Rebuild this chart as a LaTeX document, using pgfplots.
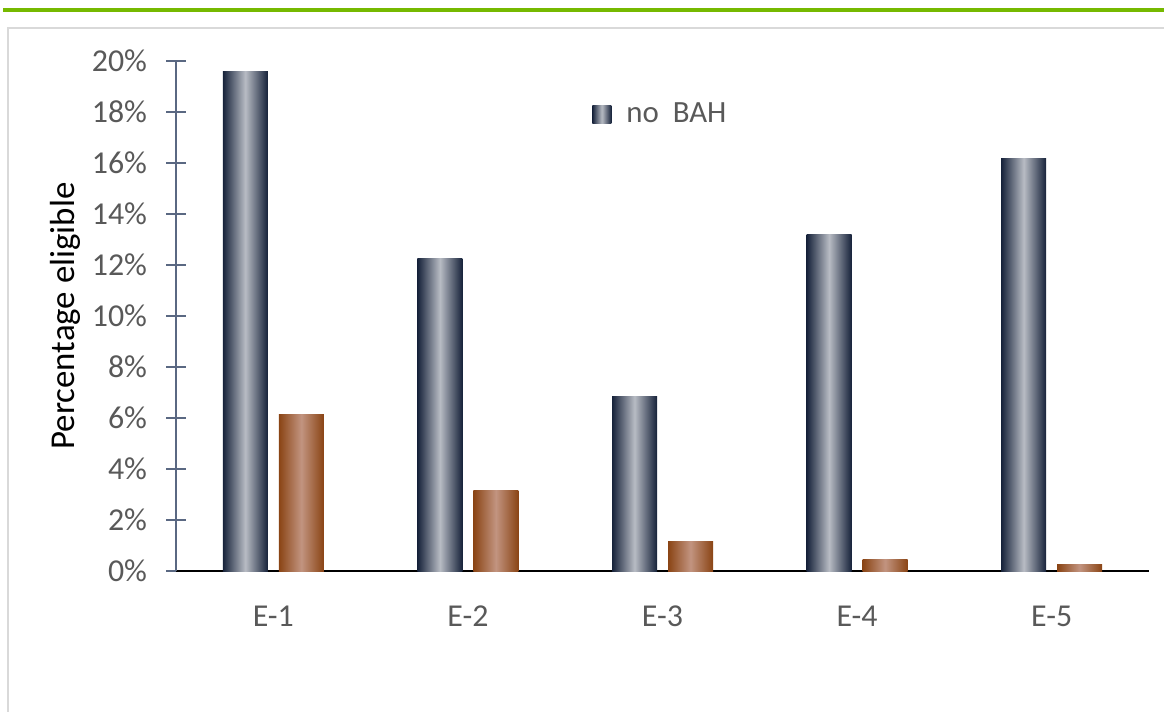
\documentclass[border=0pt]{standalone}
\usepackage{fontspec}
\setmainfont{Carlito}
\usepackage{pgfplots}
\pgfplotsset{compat=1.18}
\definecolor{navy}{HTML}{16223A}
\definecolor{navylight}{HTML}{B8BCC4}
\definecolor{brn}{HTML}{8A4414}
\definecolor{brnlight}{HTML}{C29480}
\definecolor{tickgray}{HTML}{595959}
\definecolor{axblue}{HTML}{5A6882}
\definecolor{framegray}{HTML}{D9D9D9}
\definecolor{grn}{HTML}{76B900}
\pgfplotsset{
  darkbar/.style={draw=none, bar shift=-14bp, left color=navy, right color=navy, middle color=navylight},
  brownbar/.style={draw=none, bar shift=14bp, left color=brn, right color=brn, middle color=brnlight, forget plot},
}
\begin{document}
\begin{tikzpicture}[x=1bp,y=1bp]
\path[use as bounding box] (0,0) rectangle (582,355.5);
\fill[grn] (1.5,349.5) rectangle (582,351.5);
\draw[framegray, line width=0.6bp] (4,-5) -- (4,341.5) -- (590,341.5);
\begin{axis}[
  at={(88bp,70bp)}, anchor=south west,
  scale only axis, width=486.5bp, height=255bp,
  xmin=-0.5, xmax=4.5, ymin=0, ymax=20,
  ybar, bar width=22.5bp,
  axis x line*=bottom, axis y line*=left,
  x axis line style={black, line width=1bp},
  y axis line style={axblue, line width=0.75bp},
  xtick={0,1,2,3,4}, xticklabels={E-1,E-2,E-3,E-4,E-5},
  major x tick style={draw=none},
  ytick={0,2,...,20},
  yticklabels={0\%,2\%,4\%,6\%,8\%,10\%,12\%,14\%,16\%,18\%,20\%},
  tick align=center, major tick length=10bp,
  y tick style={axblue, line width=0.75bp},
  tick label style={font=\fontsize{16}{19}\selectfont, text=tickgray},
  yticklabel style={xshift=-6bp},
  xticklabel style={yshift=-9bp},
  ylabel={Percentage eligible},
  ylabel style={font=\fontsize{17.5}{21}\selectfont, black, at={(axis description cs:-0.1141,0.5)}, anchor=center},
  legend style={at={(axis description cs:0.4275,0.896)}, anchor=west, draw=none, fill=none, inner sep=0pt,
    font=\fontsize{15.5}{18}\selectfont, text=tickgray},
  legend image code/.code={\shade[left color=navy, right color=navy, middle color=navylight] (0bp,-4.5bp) rectangle (9.5bp,4.5bp); \path (15bp,0bp);},
  clip=false,
]
% no BAH (dark) series
\addplot[darkbar] coordinates {(0,19.6)};
\addlegendentry{no\ \ BAH}
\addplot[darkbar, forget plot] coordinates {(1,12.27)};
\addplot[darkbar, forget plot] coordinates {(2,6.86)};
\addplot[darkbar, forget plot] coordinates {(3,13.18)};
\addplot[darkbar, forget plot] coordinates {(4,16.16)};
% second (brown) series
\addplot[brownbar] coordinates {(0,6.13)};
\addplot[brownbar] coordinates {(1,3.14)};
\addplot[brownbar] coordinates {(2,1.14)};
\addplot[brownbar] coordinates {(3,0.46)};
\addplot[brownbar] coordinates {(4,0.27)};
\end{axis}
\end{tikzpicture}
\end{document}
